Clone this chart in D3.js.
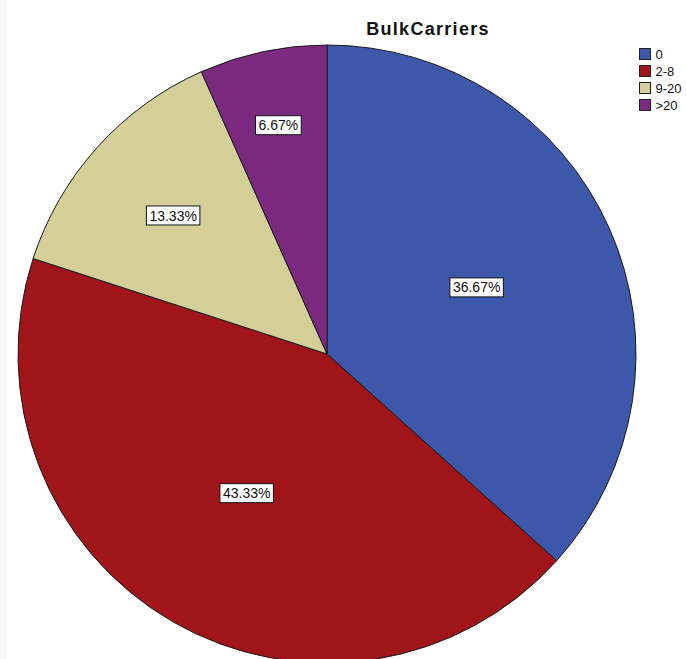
<!DOCTYPE html>
<html>
<head>
<meta charset="utf-8">
<style>
  body { margin: 0; background: #fff; }
  svg { display: block; }
</style>
</head>
<body>
<svg width="686" height="659"></svg>
<script src="https://cdnjs.cloudflare.com/ajax/libs/d3/7.8.5/d3.min.js"></script>
<script>
// chart data
var categories = ["0", "2-8", "9-20", ">20"];
var counts = [11, 13, 4, 2];
var percentLabels = ["36.67%", "43.33%", "13.33%", "6.67%"];
var colors = ["#3D57AB", "#A0151A", "#D4CF98", "#7C2A80"];
// how far out (fraction of radius) each label sits
var labelRadius = [0.53, 0.52, 0.67, 0.757];

var width = 686, height = 659;
var cx = 327, cy = 354, R = 309;

var svg = d3.select("svg");

// faint grey strip on the left edge
svg.append("rect")
   .attr("x", 0).attr("y", 0)
   .attr("width", 7).attr("height", height)
   .attr("fill", "#f7f7f7");

var pie = d3.pie().sort(null).value(function(d) { return d; });
var arcs = pie(counts);

var arc = d3.arc().innerRadius(0).outerRadius(R);

var g = svg.append("g").attr("transform", "translate(" + cx + "," + cy + ")");

g.selectAll("path")
  .data(arcs)
  .enter()
  .append("path")
  .attr("d", arc)
  .attr("fill", function(d, i) { return colors[i]; })
  .attr("stroke", "#1a1a1a")
  .attr("stroke-width", 1);

// percentage labels in boxes
var labels = g.selectAll("g.lbl")
  .data(arcs)
  .enter()
  .append("g")
  .attr("class", "lbl")
  .attr("transform", function(d, i) {
    var a = (d.startAngle + d.endAngle) / 2;
    var r = R * labelRadius[i];
    return "translate(" + (Math.sin(a) * r) + "," + (-Math.cos(a) * r) + ")";
  });

labels.append("text")
  .attr("text-anchor", "middle")
  .attr("dy", "0.36em")
  .style("font-family", "Arial, 'Liberation Sans', sans-serif")
  .style("font-size", "14px")
  .attr("fill", "#111")
  .text(function(d, i) { return percentLabels[i]; });

labels.each(function() {
  var t = d3.select(this).select("text");
  var b = t.node().getBBox();
  d3.select(this).insert("rect", "text")
    .attr("x", b.x - 3).attr("y", -9.5)
    .attr("width", b.width + 6).attr("height", 19)
    .attr("fill", "#fff")
    .attr("stroke", "#111")
    .attr("stroke-width", 1);
});

// title
svg.append("text")
  .attr("x", 428).attr("y", 35)
  .attr("text-anchor", "middle")
  .style("font-family", "Arial, 'Liberation Sans', sans-serif")
  .style("font-size", "18px")
  .style("font-weight", "bold")
  .style("letter-spacing", "1.3px")
  .attr("fill", "#111")
  .text("BulkCarriers");

// legend
var legend = svg.append("g").attr("transform", "translate(639.5,48.5)");
var items = legend.selectAll("g")
  .data(categories)
  .enter()
  .append("g")
  .attr("transform", function(d, i) { return "translate(0," + (i * 17) + ")"; });

items.append("rect")
  .attr("width", 11).attr("height", 11)
  .attr("fill", function(d, i) { return colors[i]; })
  .attr("stroke", "#222")
  .attr("stroke-width", 1);

items.append("text")
  .attr("x", 16).attr("y", 10.5)
  .style("font-family", "Arial, 'Liberation Sans', sans-serif")
  .style("font-size", "13px")
  .attr("fill", "#111")
  .text(function(d) { return d; });
</script>
</body>
</html>
